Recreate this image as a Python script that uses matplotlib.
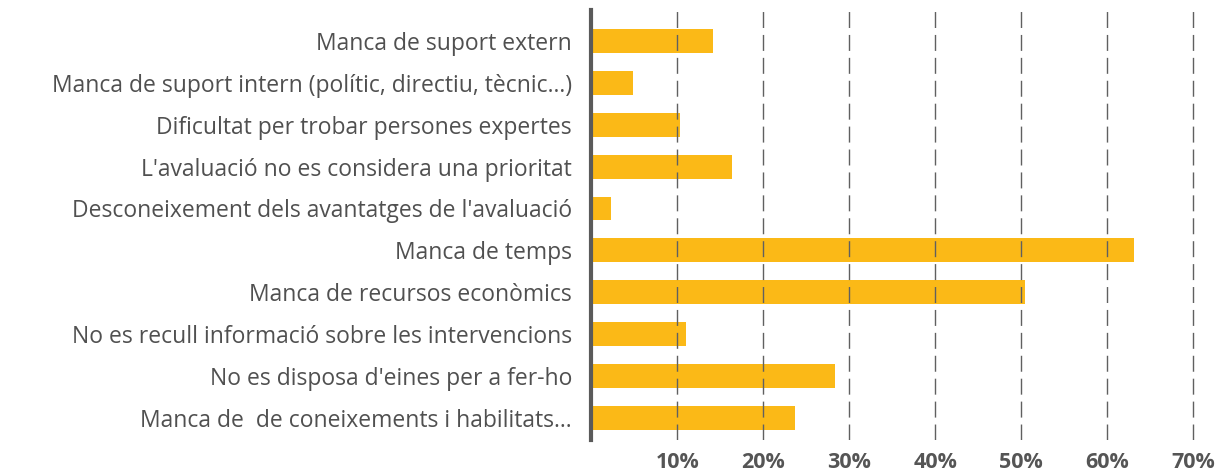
import matplotlib
matplotlib.use("Agg")
import matplotlib.pyplot as plt
import numpy as np

# categories, top to bottom as in the chart
categories = [
    "Manca de suport extern",
    "Manca de suport intern (polític, directiu, tècnic...)",
    "Dificultat per trobar persones expertes",
    "L'avaluació no es considera una prioritat",
    "Desconeixement dels avantatges de l'avaluació",
    "Manca de temps",
    "Manca de recursos econòmics",
    "No es recull informació sobre les intervencions",
    "No es disposa d'eines per a fer-ho",
    "Manca de  de coneixements i habilitats...",
]
values = [14.1, 4.8, 10.3, 16.4, 2.3, 63.1, 50.5, 11.0, 28.4, 23.7]
xticks = [10, 20, 30, 40, 50, 60, 70]
xtick_labels = ["10%", "20%", "30%", "40%", "50%", "60%", "70%"]

plt.rcParams['lines.scale_dashes'] = False
fig = plt.figure(figsize=(12.19, 4.73), dpi=100)
ax = fig.add_axes([0.4852, 0.0698, 0.5074, 0.9091])

y = np.arange(len(categories))
ax.barh(y, values, height=0.57, color="#FBB917", zorder=1)

ax.set_xlim(0, 72)
ax.set_ylim(len(categories) - 1 + 0.53, -0.74)

ax.set_xticks(xticks)
ax.set_xticklabels(xtick_labels, fontsize=15.5, fontweight="bold",
                   color="#555555", family="Open Sans")
ax.set_yticks(y)
ax.set_yticklabels(categories, fontsize=16.5, color="#505050", family="Open Sans")
ax.tick_params(axis="both", length=0)
ax.tick_params(axis="y", pad=14)
ax.tick_params(axis="x", pad=9)

for x in xticks:
    ax.axvline(x, color="#606060", linewidth=1.0, linestyle=(0, (11.5, 5)), zorder=2)

for s in ["top", "right", "bottom"]:
    ax.spines[s].set_visible(False)
ax.spines["left"].set_color("#5a5a5a")
ax.spines["left"].set_linewidth(3)
ax.spines["left"].set_zorder(3)

fig.savefig("out.png", dpi=100)
